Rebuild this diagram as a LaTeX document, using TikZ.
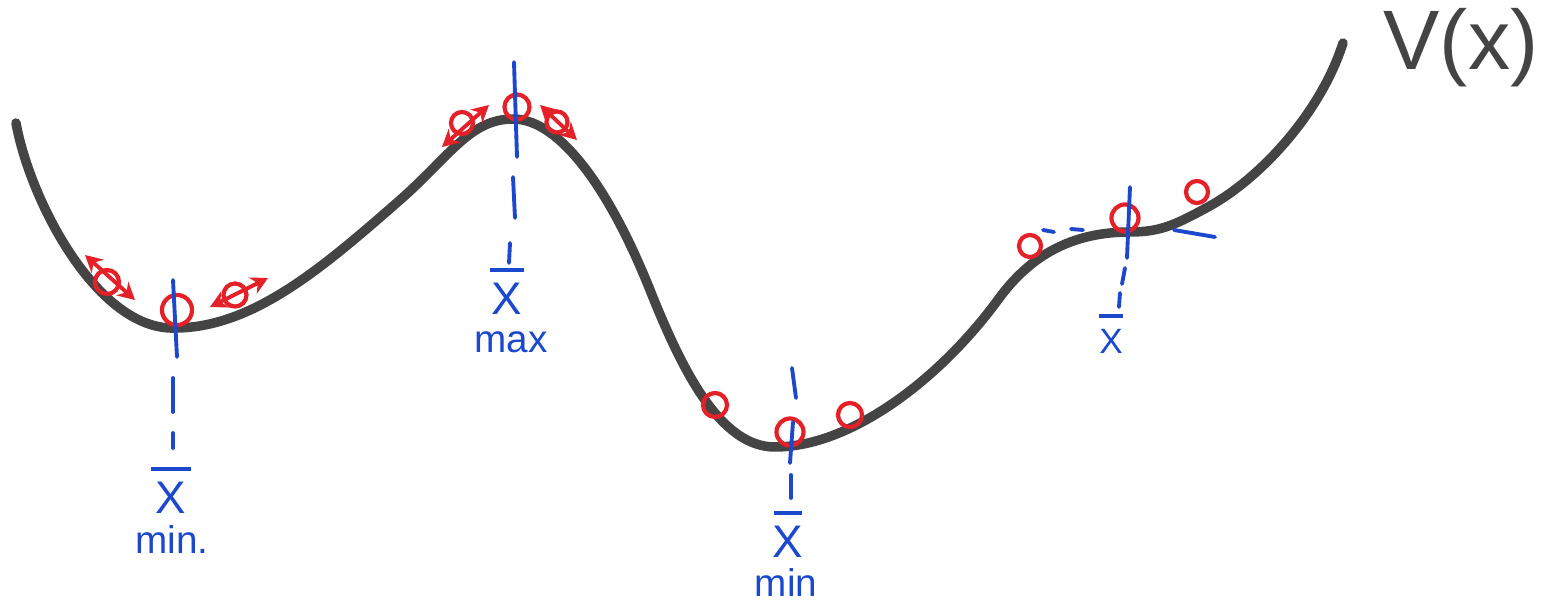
\documentclass[tikz,border=0pt]{standalone}
\usepackage{fontspec}
\setsansfont{Liberation Sans}
\usepackage{tikz}
\usetikzlibrary{arrows.meta}
\definecolor{CurveGray}{RGB}{68,68,68}
\definecolor{BallRed}{RGB}{228,32,40}
\definecolor{GuideBlue}{RGB}{28,72,205}
% bar over a position label
\newcommand{\barlabel}[2]{\rule{#1}{1.1pt}\\[#2]X}

\begin{document}
\begin{tikzpicture}[
    x=0.01cm, y=-0.01cm,
    font=\sffamily,
    potential/.style={line width=2.7pt, draw=CurveGray, line cap=round},
    ball/.style={circle, draw=BallRed, line width=1.2pt, inner sep=0pt, minimum size=#1},
    ball/.default=0.22cm,
    wiggle/.style={{Stealth[length=1.7mm,width=1.8mm]}-{Stealth[length=1.7mm,width=1.8mm]}, draw=BallRed, line width=1.1pt},
    guide/.style={draw=GuideBlue, line width=1.1pt, line cap=round},
    xlabel/.style={text=GuideBlue, align=center, inner sep=0pt, font=\sffamily\fontsize{13}{15}\selectfont},
    kindlabel/.style={text=GuideBlue, inner sep=0pt, anchor=base, font=\sffamily\fontsize{11}{13}\selectfont}
]
\useasboundingbox (0,0) rectangle (1541,600);

% The potential V(x) with two minima, a maximum and a flat inflection point.
\draw[potential] (16,123)
    .. controls (30,200) and (95,325) .. (170,328)
    .. controls (250,330) and (320,270) .. (400,200)
    .. controls (450,156) and (470,119) .. (513,119)
    .. controls (560,119) and (610,190) .. (650,290)
    .. controls (682,370) and (720,447) .. (775,447)
    .. controls (850,447) and (940,380) .. (1000,297)
    .. controls (1030,257) and (1070,232) .. (1130,232)
    .. controls (1160,232) and (1175,225) .. (1208,207)
    .. controls (1258,180) and (1320,115) .. (1343,43);
\node[text=CurveGray, font=\sffamily\fontsize{24}{28}\selectfont] (vx) at (1461,48) {V(x)};

% Left minimum: ball at rest and two displaced balls that oscillate.
\node[ball=0.30cm] (minAball) at (177,310) {};
\node[ball=0.24cm] (minAleft) at (107,282) {};
\node[ball=0.23cm] (minAright) at (235,295) {};
\draw[wiggle] (85,255) -- (135,300);
\draw[wiggle] (210,307) -- (268,278);
\draw[guide] (173,280) -- (177,357);
\draw[guide] (173,378) -- (173,412);
\draw[guide] (173,433) -- (173,448);
\node[xlabel] (xminA) at (171,490) {\barlabel{0.40cm}{-3pt}};
\node[kindlabel] (minAtext) at (172,553) {min.};

% Maximum: ball balanced on top, neighbours run away.
\node[ball=0.25cm] (maxball) at (517,107) {};
\node[ball=0.22cm] (maxleft) at (462,123) {};
\node[ball=0.21cm] (maxright) at (557,122) {};
\draw[wiggle] (442,147) -- (489,105);
\draw[wiggle] (540,105) -- (577,140);
\draw[guide] (514,62) -- (517,157);
\draw[guide] (513,177) -- (515,218);
\draw[guide] (510,243) -- (509,263);
\node[xlabel] (xmax) at (507,291) {\barlabel{0.33cm}{-3pt}};
\node[kindlabel] (maxtext) at (511,352) {max};

% Second minimum.
\node[ball=0.24cm] (minBleft) at (715,405) {};
\node[ball=0.27cm] (minBball) at (790,432) {};
\node[ball=0.24cm] (minBright) at (850,415) {};
\draw[guide] (792,368) -- (796,398);
\draw[guide] (793,422) -- (790,463);
\draw[guide] (791,475) -- (791,498);
\node[xlabel] (xminB) at (788,534) {\barlabel{0.28cm}{-3pt}};
\node[kindlabel] (minBtext) at (786,596) {min};

% Flat inflection point with its horizontal tangent.
\node[ball=0.22cm] (flatleft) at (1030,246) {};
\node[ball=0.27cm] (flatball) at (1125,218) {};
\node[ball=0.22cm] (flatright) at (1197,192) {};
\draw[guide] (1043,230) -- (1054,232);
\draw[guide] (1071,229) -- (1083,230);
\draw[guide] (1174,230) -- (1215,237);
\draw[guide] (1130,187) -- (1127,258);
\draw[guide] (1125,268) -- (1122,284);
\draw[guide] (1120,293) -- (1119,307);
\node[xlabel, font=\sffamily\fontsize{10}{12}\selectfont] (xflat) at (1111,334) {\barlabel{0.24cm}{-2pt}};

\end{tikzpicture}
\end{document}
